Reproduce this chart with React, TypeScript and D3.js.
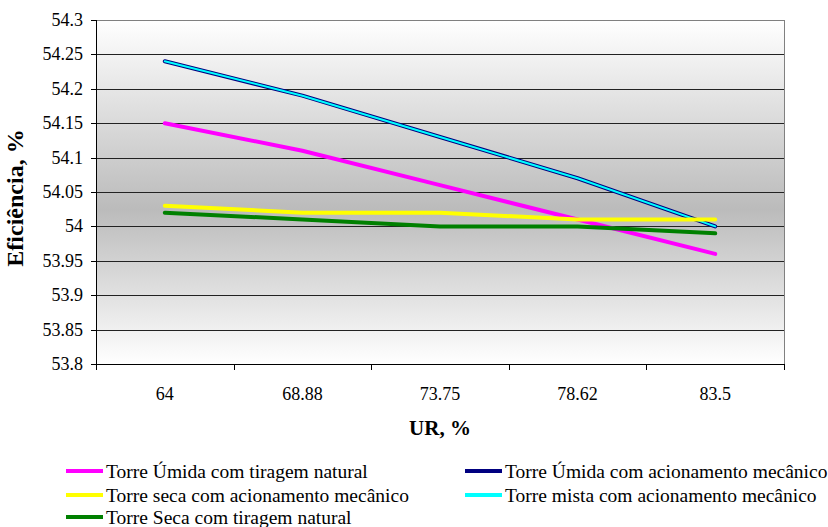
import React from "react";
import * as d3 from "d3";

const categories = ["64", "68.88", "73.75", "78.62", "83.5"];
const yTicks = [53.8, 53.85, 53.9, 53.95, 54, 54.05, 54.1, 54.15, 54.2, 54.25, 54.3];

const umidaNatural = [54.15, 54.11, 54.06, 54.01, 53.96];
const umidaMecanico = [54.24, 54.19, 54.13, 54.07, 54.0];
const secaMecanico = [54.03, 54.02, 54.02, 54.01, 54.01];
const mistaMecanico = [54.24, 54.19, 54.13, 54.07, 54.0];
const secaNatural = [54.02, 54.01, 54.0, 54.0, 53.99];

const seriesNames = [
  "Torre Úmida com tiragem natural",
  "Torre Úmida com acionamento mecânico",
  "Torre seca com acionamento mecânico",
  "Torre mista com acionamento mecânico",
  "Torre Seca com tiragem natural",
];

const W = 828;
const H = 527;
const L = 96, R = 784, T = 20, B = 364;
const FONT = "'Liberation Serif', 'Times New Roman', serif";

export default function App() {
  const band = d3.scaleBand().domain(categories).range([L, R]).padding(0);
  const x = (c: string) => (band(c) as number) + band.bandwidth() / 2;
  const y = d3.scaleLinear().domain([53.8, 54.3]).range([B, T]);
  const line = (vals: number[]) =>
    d3.line<number>().x((_, i) => x(categories[i])).y((v) => y(v))(vals) as string;

  const series = [
    { name: seriesNames[0], vals: umidaNatural, color: "#FF00FF", w: 4 },
    { name: seriesNames[1], vals: umidaMecanico, color: "#000080", w: 4 },
    { name: seriesNames[3], vals: mistaMecanico, color: "#00FFFF", w: 2 },
    { name: seriesNames[2], vals: secaMecanico, color: "#FFFF00", w: 4 },
    { name: seriesNames[4], vals: secaNatural, color: "#008000", w: 4 },
  ];

  const legend = [
    { name: seriesNames[0], color: "#FF00FF", col: 0, row: 0 },
    { name: seriesNames[1], color: "#000080", col: 1, row: 0 },
    { name: seriesNames[2], color: "#FFFF00", col: 0, row: 1 },
    { name: seriesNames[3], color: "#00FFFF", col: 1, row: 1 },
    { name: seriesNames[4], color: "#008000", col: 0, row: 2 },
  ];
  const legCols = [{ x1: 66, x2: 103 }, { x1: 465, x2: 502 }];
  const legRows = [471, 495, 517];

  const boundaries = [...categories.map((c) => band(c) as number), R];

  return (
    <svg width={W} height={H} style={{ display: "block", position: "absolute", left: 0, top: 0, background: "#fff" }}>
      <defs>
        <linearGradient id="bg" x1="0" y1="0" x2="0" y2="1">
          <stop offset="0" stopColor="#ffffff" />
          <stop offset="0.55" stopColor="#bbbbbb" />
          <stop offset="1" stopColor="#ffffff" />
        </linearGradient>
      </defs>
      <rect x={0} y={0} width={W} height={H} fill="#fff" />
      <rect x={L} y={T} width={R - L} height={B - T} fill="url(#bg)" />
      {yTicks.slice(1).map((t, i, arr) => (
        <line
          key={t}
          x1={L}
          x2={R}
          y1={Math.round(y(t)) + 0.5}
          y2={Math.round(y(t)) + 0.5}
          stroke={i === arr.length - 1 ? "#808080" : "#222"}
          strokeWidth={1}
        />
      ))}
      <line x1={R + 0.5} x2={R + 0.5} y1={T} y2={B} stroke="#808080" strokeWidth={1} />
      <line x1={L + 0.5} x2={L + 0.5} y1={T} y2={B} stroke="#000" strokeWidth={1} />
      <line x1={L} x2={R + 1} y1={B + 0.5} y2={B + 0.5} stroke="#000" strokeWidth={1} />
      {yTicks.map((t) => (
        <g key={t}>
          <line x1={91} x2={L} y1={Math.round(y(t)) + 0.5} y2={Math.round(y(t)) + 0.5} stroke="#000" />
          <text x={83} y={y(t)} textAnchor="end" dominantBaseline="central" fontFamily={FONT} fontSize={18}>
            {String(t)}
          </text>
        </g>
      ))}
      {boundaries.map((b, i) => (
        <line key={i} x1={Math.round(b) + 0.5} x2={Math.round(b) + 0.5} y1={B} y2={B + 6} stroke="#000" />
      ))}
      {categories.map((c) => (
        <text key={c} x={x(c)} y={394} textAnchor="middle" dominantBaseline="central" fontFamily={FONT} fontSize={18}>
          {c}
        </text>
      ))}
      <text x={(L + R) / 2} y={428} textAnchor="middle" dominantBaseline="central" fontFamily={FONT} fontSize={21} fontWeight="bold">
        UR, %
      </text>
      <text
        transform={`translate(15,${(T + B) / 2 + 6}) rotate(-90)`}
        textAnchor="middle"
        dominantBaseline="central"
        fontFamily={FONT}
        fontSize={24}
        fontWeight="bold"
      >
        Eficiência, %
      </text>
      {series.map((s) => (
        <path key={s.name + s.color} d={line(s.vals)} fill="none" stroke={s.color} strokeWidth={s.w} strokeLinejoin="round" strokeLinecap="round" />
      ))}
      {legend.map((l) => (
        <g key={l.name}>
          <line x1={legCols[l.col].x1} x2={legCols[l.col].x2} y1={legRows[l.row]} y2={legRows[l.row]} stroke={l.color} strokeWidth={4} />
          <text x={legCols[l.col].x2 + 3} y={legRows[l.row]} dominantBaseline="central" fontFamily={FONT} fontSize={19.5}>
            {l.name}
          </text>
        </g>
      ))}
    </svg>
  );
}
